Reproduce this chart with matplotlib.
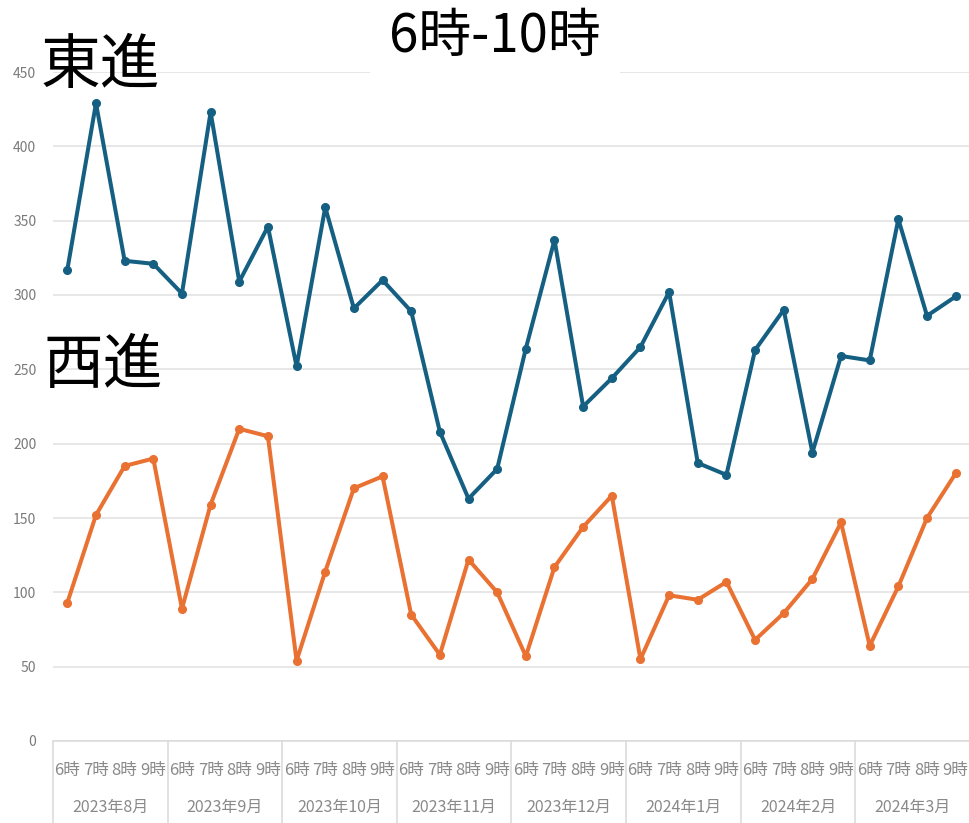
import matplotlib.pyplot as plt
import matplotlib.transforms as mtransforms

plt.rcParams['font.family'] = ['Noto Sans CJK JP', 'DejaVu Sans']

months = ['2023年8月', '2023年9月', '2023年10月', '2023年11月',
          '2023年12月', '2024年1月', '2024年2月', '2024年3月']
hours = ['6時', '7時', '8時', '9時']

east = [317, 429, 323, 321, 301, 423, 309, 346,
        252, 359, 291, 310, 289, 208, 163, 183,
        264, 337, 225, 244, 265, 302, 187, 179,
        263, 290, 194, 259, 256, 351, 286, 299]
west = [93, 152, 185, 190, 89, 159, 210, 205,
        54, 114, 170, 178, 85, 58, 122, 100,
        57, 117, 144, 165, 55, 98, 95, 107,
        68, 86, 109, 147, 64, 104, 150, 180]

W, H = 970, 823
fig = plt.figure(figsize=(W / 100, H / 100), dpi=100)
left, right, top, bottom = 53, 970, 72, 741
ax = fig.add_axes([left / W, 1 - bottom / H, (right - left) / W, (bottom - top) / H])

x = list(range(len(east)))
ax.plot(x, east, color='#156082', lw=2.9, marker='o', ms=5.5, clip_on=False, zorder=3)
ax.plot(x, west, color='#E97132', lw=2.9, marker='o', ms=5.5, clip_on=False, zorder=3)

ax.set_xlim(-0.5, len(east) - 0.5)
ax.set_ylim(0, 450)
ax.set_yticks(range(0, 451, 50))
ax.tick_params(axis='y', length=0, labelsize=10, labelcolor='#7a7a7a', pad=12)
ax.grid(axis='y', color='#e3e3e3', lw=1.2, zorder=0)
for s in ax.spines.values():
    s.set_visible(False)

# 多段の横軸ラベル
ax.set_xticks(x)
ax.set_xticklabels(hours * len(months))
ax.tick_params(axis='x', length=0, labelsize=12, labelcolor='#8a8a8a', pad=15)

trans = mtransforms.blended_transform_factory(ax.transData, ax.transAxes)
ax.plot([-0.5, len(east) - 0.5], [0, 0], transform=trans, color='#dcdcdc', lw=1.2, clip_on=False)
for i in range(len(months) + 1):
    ax.plot([i * 4 - 0.5, i * 4 - 0.5], [0, -0.13], transform=trans,
            color='#dcdcdc', lw=1.2, clip_on=False)
for i, m in enumerate(months):
    ax.text(i * 4 + 1.5, -0.1, m, transform=trans, ha='center', va='center',
            fontsize=11.5, color='#8a8a8a')

fig.text(495 / W, 1 - 37 / H, '6時-10時', ha='center', va='center', fontsize=38,
         bbox=dict(facecolor='white', edgecolor='none', pad=14))
fig.text(41 / W, 1 - 67 / H, '東進', ha='left', va='center', fontsize=43)
fig.text(44 / W, 1 - 366 / H, '西進', ha='left', va='center', fontsize=43)

fig.savefig('out.png', dpi=100)
